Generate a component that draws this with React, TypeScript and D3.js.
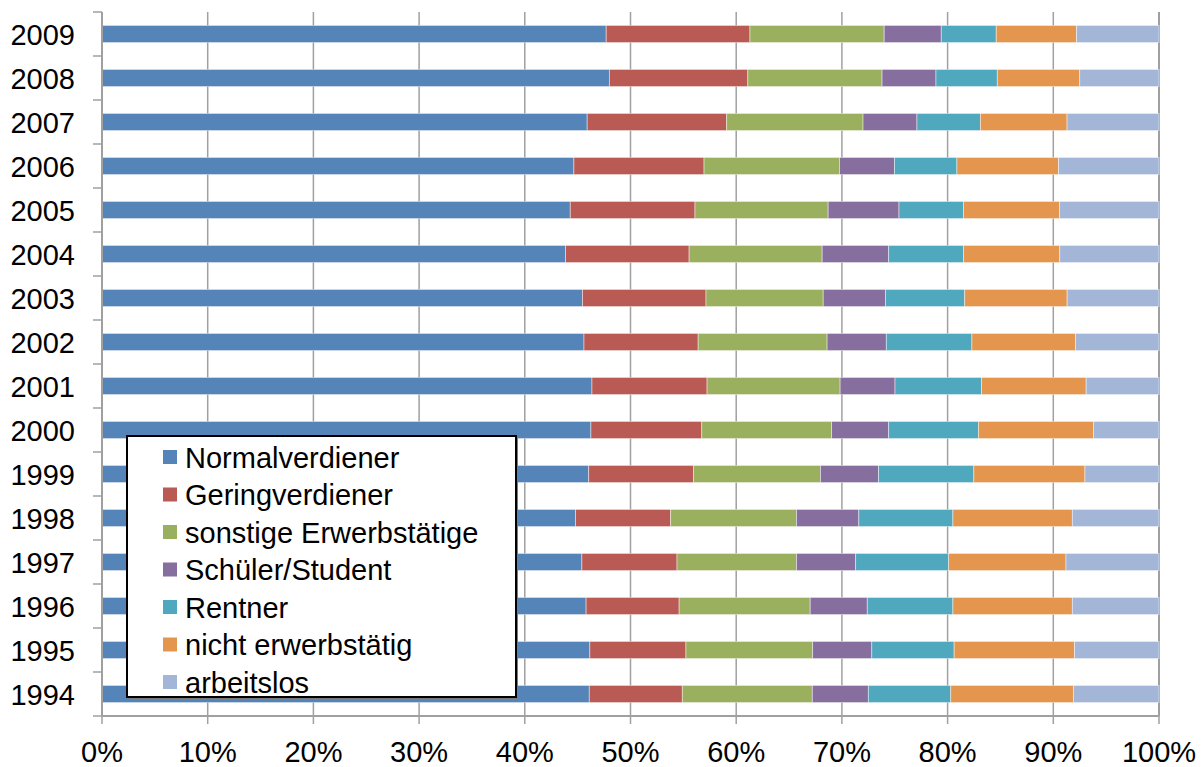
import React from "react";
import * as d3 from "d3";

// Years, top to bottom
const years = ["2009", "2008", "2007", "2006", "2005", "2004", "2003", "2002", "2001", "2000", "1999", "1998", "1997", "1996", "1995", "1994"];

const seriesNames = [
  "Normalverdiener",
  "Geringverdiener",
  "sonstige Erwerbstätige",
  "Schüler/Student",
  "Rentner",
  "nicht erwerbstätig",
  "arbeitslos",
];

const seriesColors = ["#5585B8", "#B95B54", "#9BB05E", "#866E9E", "#50A8BF", "#E4964E", "#A3B6D8"];

// Shares in percent, one value per year (same order as years)
const normalverdiener = [47.7, 48.0, 45.9, 44.6, 44.3, 43.9, 45.5, 45.6, 46.4, 46.3, 46.0, 44.8, 45.4, 45.8, 46.2, 46.1];
const geringverdiener = [13.6, 13.1, 13.2, 12.3, 11.8, 11.7, 11.7, 10.8, 10.9, 10.5, 9.9, 9.0, 9.0, 8.8, 9.1, 8.8];
const sonstigeErwerbstaetige = [12.7, 12.7, 12.9, 12.8, 12.6, 12.6, 11.1, 12.2, 12.6, 12.3, 12.0, 11.9, 11.3, 12.4, 12.0, 12.3];
const schuelerStudent = [5.4, 5.1, 5.1, 5.2, 6.7, 6.3, 5.9, 5.6, 5.2, 5.4, 5.5, 5.9, 5.6, 5.4, 5.6, 5.3];
const rentner = [5.2, 5.8, 6.0, 5.9, 6.1, 7.1, 7.5, 8.1, 8.2, 8.5, 9.0, 8.9, 8.8, 8.1, 7.8, 7.8];
const nichtErwerbstaetig = [7.6, 7.8, 8.2, 9.6, 9.1, 9.1, 9.7, 9.8, 9.9, 10.9, 10.5, 11.3, 11.1, 11.3, 11.4, 11.6];
const arbeitslos = [7.8, 7.5, 8.7, 9.5, 9.4, 9.4, 8.7, 7.9, 6.9, 6.2, 7.0, 8.2, 8.8, 8.2, 8.0, 8.1];

const xTicks = [0, 10, 20, 30, 40, 50, 60, 70, 80, 90, 100];

const W = 1204;
const H = 767;
const margin = { left: 102, right: 45, top: 12, bottom: 51 };
const font = "'Liberation Sans', Arial, sans-serif";
const fontSize = 29;

export default function App() {
  const seriesValues = [
    normalverdiener,
    geringverdiener,
    sonstigeErwerbstaetige,
    schuelerStudent,
    rentner,
    nichtErwerbstaetig,
    arbeitslos,
  ];

  const rows = years.map((year, i) => {
    const row: Record<string, number | string> = { year };
    seriesNames.forEach((name, s) => {
      row[name] = seriesValues[s][i];
    });
    return row;
  });

  // normalize each year to 100 %
  const stacked = d3
    .stack<any>()
    .keys(seriesNames)
    .offset(d3.stackOffsetExpand)(rows);

  const x = d3
    .scaleLinear()
    .domain([0, 1])
    .range([margin.left, W - margin.right]);

  const y = d3
    .scaleBand()
    .domain(years)
    .range([margin.top, H - margin.bottom])
    .paddingInner(0.61)
    .paddingOuter(0.305);

  const yStep = y.step();
  const yBottom = H - margin.bottom;
  const gridColor = "#A0A0A0";

  // legend geometry
  const lg = { x: 127, y: 436, w: 389, h: 261 };
  const lgRow = 37.5;

  return (
    <svg
      width={W}
      height={H}
      style={{ position: "absolute", left: 0, top: 0, background: "#fff" }}
      fontFamily={font}
    >
      <rect x={0} y={0} width={W} height={H} fill="#fff" />

      {/* vertical gridlines */}
      {xTicks.map((t) => (
        <line
          key={"g" + t}
          x1={x(t / 100)}
          x2={x(t / 100)}
          y1={margin.top}
          y2={yBottom}
          stroke={gridColor}
          strokeWidth={t === 100 ? 2 : 1.5}
        />
      ))}

      {/* stacked bars */}
      {stacked.map((layer, s) => (
        <g key={layer.key} fill={seriesColors[s]}>
          {layer.map((d, i) => (
            <rect
              key={years[i]}
              x={x(d[0])}
              y={y(years[i])!}
              width={x(d[1]) - x(d[0])}
              height={y.bandwidth()}
              stroke="#ffffff"
              strokeOpacity={0.55}
              strokeWidth={0.8}
            />
          ))}
        </g>
      ))}

      {/* y axis */}
      <line x1={margin.left} x2={margin.left} y1={margin.top} y2={yBottom} stroke={gridColor} strokeWidth={2} />
      {d3.range(years.length + 1).map((i) => (
        <line
          key={"yt" + i}
          x1={margin.left - 9}
          x2={margin.left}
          y1={margin.top + i * yStep}
          y2={margin.top + i * yStep}
          stroke={gridColor}
          strokeWidth={1.5}
        />
      ))}
      {years.map((yr) => (
        <text
          key={"yl" + yr}
          x={75}
          y={y(yr)! + y.bandwidth() / 2 + 10.5}
          textAnchor="end"
          fontSize={fontSize}
          fill="#000"
        >
          {yr}
        </text>
      ))}

      {/* x axis */}
      <line x1={margin.left} x2={W - margin.right} y1={yBottom} y2={yBottom} stroke={gridColor} strokeWidth={2} />
      {xTicks.map((t) => (
        <line
          key={"xt" + t}
          x1={x(t / 100)}
          x2={x(t / 100)}
          y1={yBottom}
          y2={yBottom + 8}
          stroke={gridColor}
          strokeWidth={1.5}
        />
      ))}
      {xTicks.map((t) => (
        <text key={"xl" + t} x={x(t / 100)} y={762} textAnchor="middle" fontSize={fontSize} fill="#000">
          {t + "%"}
        </text>
      ))}

      {/* legend */}
      <rect x={lg.x + 2} y={lg.y + 2} width={lg.w} height={lg.h} fill="#7a7a7a" />
      <rect x={lg.x} y={lg.y} width={lg.w} height={lg.h} fill="#fff" stroke="#000" strokeWidth={2} />
      {seriesNames.map((name, s) => {
        const cy = lg.y + 21 + s * lgRow;
        return (
          <g key={"lg" + name}>
            <rect x={163} y={cy - 7} width={14} height={14} fill={seriesColors[s]} />
            <text x={185} y={cy + 10.5} fontSize={fontSize} fill="#000">
              {name}
            </text>
          </g>
        );
      })}
    </svg>
  );
}
